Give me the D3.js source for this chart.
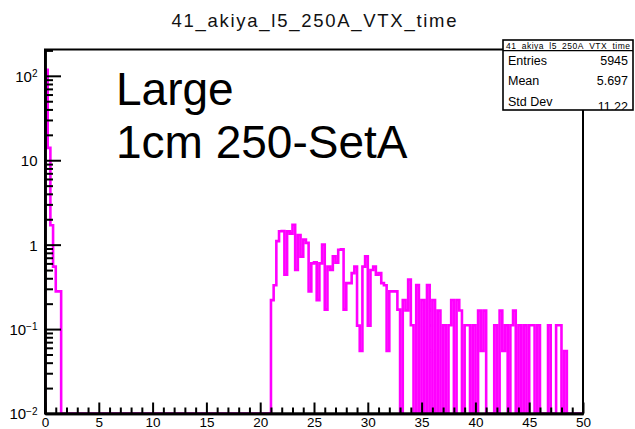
<!DOCTYPE html>
<html>
<head>
<meta charset="utf-8">
<script src="https://cdn.jsdelivr.net/npm/d3@7"></script>
<style>
  html, body { margin: 0; padding: 0; background: #fff; }
  svg { display: block; font-family: "Liberation Sans", Arial, Helvetica, sans-serif; }
</style>
</head>
<body>
<svg id="chart" width="635" height="429"></svg>
<script>
// Histogram: 200 bins of 0.25 ns between 0 and 50 ns, log-scale contents.
const binWidth = 0.25;
const nBins = 200;

// Bin contents by region (start position in ns, then consecutive bins)
const headStart = 0;
const headBins = [118, 14, 1.7, 0.55, 0.28, 0.28];

const peakStart = 21;
const peakBins = [0.22, 0.33, 1.1, 1.44, 1.45, 0.44, 1.44, 1.35, 1.72, 0.5,
  1.3, 0.72, 1.15, 1.05, 0.28, 0.6, 0.62, 0.22, 0.6, 1.0,
  0.17, 0.55, 0.5, 0.73, 0.61, 0.87, 0.88, 0.17, 0.35, 0.35,
  0.46, 0.55, 0.11, 0.055, 0.55, 0.73, 0.11, 0.5, 0.55, 0.44,
  0.46, 0.35, 0.33, 0.055, 0.28, 0.28, 0.28, 0.17];

const tailStart = 33;
const tailBins = [0, 0.221, 0.166, 0.387, 0.111, 0, 0.332, 0, 0.221, 0,
  0.332, 0, 0.221, 0, 0.166, 0, 0.111, 0, 0.111, 0.221,
  0, 0.221, 0.166, 0, 0.111, 0.111, 0, 0.111, 0, 0.166,
  0.055, 0.166, 0, 0, 0, 0.111, 0, 0.166, 0.055, 0.111,
  0, 0.111, 0.166, 0, 0.111, 0, 0.111, 0, 0.111, 0.111,
  0, 0.111, 0, 0, 0, 0.111, 0, 0, 0.111, 0.111,
  0, 0.055];

// Axis tick values / labels
const xMajorTicks = [0, 5, 10, 15, 20, 25, 30, 35, 40, 45, 50];
const yMajorTicks = [0.01, 0.1, 1, 10, 100];
const yMajorLabels = [["10", "\u22122"], ["10", "\u22121"], ["1", ""], ["10", ""], ["10", "2"]];

// Stats box contents
const histName = "41_akiya_l5_250A_VTX_time";
const statLabels = ["Entries", "Mean", "Std Dev"];
const statValues = ["5945", "5.697", "11.22"];

// Free text on the pad
const padText = ["Large", "1cm 250-SetA"];

// ---------------------------------------------------------------
const contents = new Array(nBins).fill(0);
[[headStart, headBins], [peakStart, peakBins], [tailStart, tailBins]].forEach(([start, vals]) => {
  const i0 = Math.round(start / binWidth);
  vals.forEach((v, i) => { contents[i0 + i] = v; });
});

const frame = { left: 45, right: 583, top: 49.5, bottom: 413.5 };
const yMin = 0.01, yMax = 205;

const x = d3.scaleLinear().domain([0, 50]).range([frame.left, frame.right]);
const y = d3.scaleLog().domain([yMin, yMax]).range([frame.bottom, frame.top]);

const svg = d3.select("#chart");

// Title
svg.append("text")
  .attr("x", 314).attr("y", 26.5)
  .attr("text-anchor", "middle")
  .attr("font-size", 18.5)
  .attr("textLength", 285).attr("lengthAdjust", "spacing")
  .attr("fill", "#111")
  .text(histName);

// Clip for the histogram line
svg.append("defs").append("clipPath").attr("id", "frameClip")
  .append("rect")
  .attr("x", frame.left).attr("y", frame.top)
  .attr("width", frame.right - frame.left).attr("height", frame.bottom - frame.top);

// Histogram step line
const pts = [[0, yMin]];
contents.forEach((v, i) => pts.push([i * binWidth, Math.max(v, yMin)]));
pts.push([nBins * binWidth, Math.max(contents[nBins - 1], yMin)]);
pts.push([nBins * binWidth, yMin]);

const line = d3.line()
  .x(d => x(d[0]))
  .y(d => y(d[1]))
  .curve(d3.curveStepAfter);

svg.append("path")
  .attr("clip-path", "url(#frameClip)")
  .attr("d", line(pts))
  .attr("fill", "none")
  .attr("stroke", "#ff00ff")
  .attr("stroke-width", 2.6);

// Frame
svg.append("rect")
  .attr("x", frame.left).attr("y", frame.top)
  .attr("width", frame.right - frame.left).attr("height", frame.bottom - frame.top)
  .attr("fill", "none").attr("stroke", "#000").attr("stroke-width", 2);

// X axis: ticks point into the frame
const xMinorTicks = d3.range(0, 51, 1).filter(v => v % 5 !== 0);
const xAxisMinor = svg.append("g")
  .attr("transform", `translate(0,${frame.bottom})`)
  .call(d3.axisBottom(x).tickValues(xMinorTicks).tickSize(-6).tickSizeOuter(0).tickFormat(""));
const xAxisMajor = svg.append("g")
  .attr("transform", `translate(0,${frame.bottom})`)
  .call(d3.axisBottom(x).tickValues(xMajorTicks).tickSize(-11).tickSizeOuter(0).tickPadding(3.5));
[xAxisMinor, xAxisMajor].forEach(g => {
  g.select(".domain").attr("stroke-width", 2.5);
  g.selectAll(".tick line").attr("stroke-width", 2);
});
xAxisMajor.selectAll(".tick text")
  .attr("font-size", 13.5).attr("fill", "#000")
  .attr("font-family", "Liberation Sans, Arial, sans-serif");

// Y axis (log): decade ticks and 2..9 sub-ticks
const yMinorTicks = [];
[0.01, 0.1, 1, 10, 100].forEach(d => {
  for (let m = 2; m <= 9; m++) { const v = d * m; if (v <= yMax) yMinorTicks.push(v); }
});
const yAxisMinor = svg.append("g")
  .attr("transform", `translate(${frame.left},0)`)
  .call(d3.axisLeft(y).tickValues(yMinorTicks).tickSize(-8).tickSizeOuter(0).tickFormat(""));
const yAxisMajor = svg.append("g")
  .attr("transform", `translate(${frame.left},0)`)
  .call(d3.axisLeft(y).tickValues(yMajorTicks).tickSize(-16).tickSizeOuter(0).tickFormat(""));
[yAxisMinor, yAxisMajor].forEach(g => {
  g.select(".domain").attr("stroke-width", 2.5);
  g.selectAll(".tick line").attr("stroke-width", 2);
});

// Y labels with superscript exponents
yAxisMajor.selectAll(".tick").each(function(d, i) {
  const [base, expo] = yMajorLabels[i];
  const t = d3.select(this).append("text")
    .attr("x", -7.5).attr("y", 0).attr("dy", "0.36em")
    .attr("text-anchor", "end")
    .attr("fill", "#000")
    .attr("font-size", 15);
  t.append("tspan").text(base);
  if (expo) {
    t.append("tspan").attr("dy", "-0.45em").attr("font-size", 10).text(expo);
  }
});

// Pad text
padText.forEach((s, i) => {
  svg.append("text")
    .attr("x", 116).attr("y", 105 + i * 53)
    .attr("font-size", 46)
    .attr("fill", "#000")
    .text(s);
});

// Statistics box
const box = { x: 503, y: 40, w: 130, h: 70 };
svg.append("clipPath").attr("id", "boxClip")
  .append("rect").attr("x", box.x).attr("y", box.y).attr("width", box.w).attr("height", box.h);
svg.append("rect")
  .attr("x", box.x).attr("y", box.y).attr("width", box.w).attr("height", box.h)
  .attr("fill", "#fff").attr("stroke", "none");
const boxG = svg.append("g").attr("clip-path", "url(#boxClip)");
boxG.append("text")
  .attr("x", box.x + box.w / 2).attr("y", box.y + 8.5)
  .attr("text-anchor", "middle").attr("font-size", 8.5)
  .attr("textLength", 124).attr("lengthAdjust", "spacing")
  .text(histName);
const rowBase = [65, 85, 110.5];
statLabels.forEach((s, i) => {
  boxG.append("text").attr("x", 508).attr("y", rowBase[i] - (i === 2 ? 4.5 : 0))
    .attr("font-size", 12.5).text(s);
  boxG.append("text").attr("x", 628).attr("y", rowBase[i])
    .attr("text-anchor", "end").attr("font-size", 12.5).text(statValues[i]);
});
svg.append("line")
  .attr("x1", box.x).attr("x2", box.x + box.w)
  .attr("y1", box.y + 10.7).attr("y2", box.y + 10.7)
  .attr("stroke", "#000").attr("stroke-width", 1.2);
svg.append("rect")
  .attr("x", box.x).attr("y", box.y).attr("width", box.w).attr("height", box.h)
  .attr("fill", "none").attr("stroke", "#000").attr("stroke-width", 1.6);
</script>
</body>
</html>
